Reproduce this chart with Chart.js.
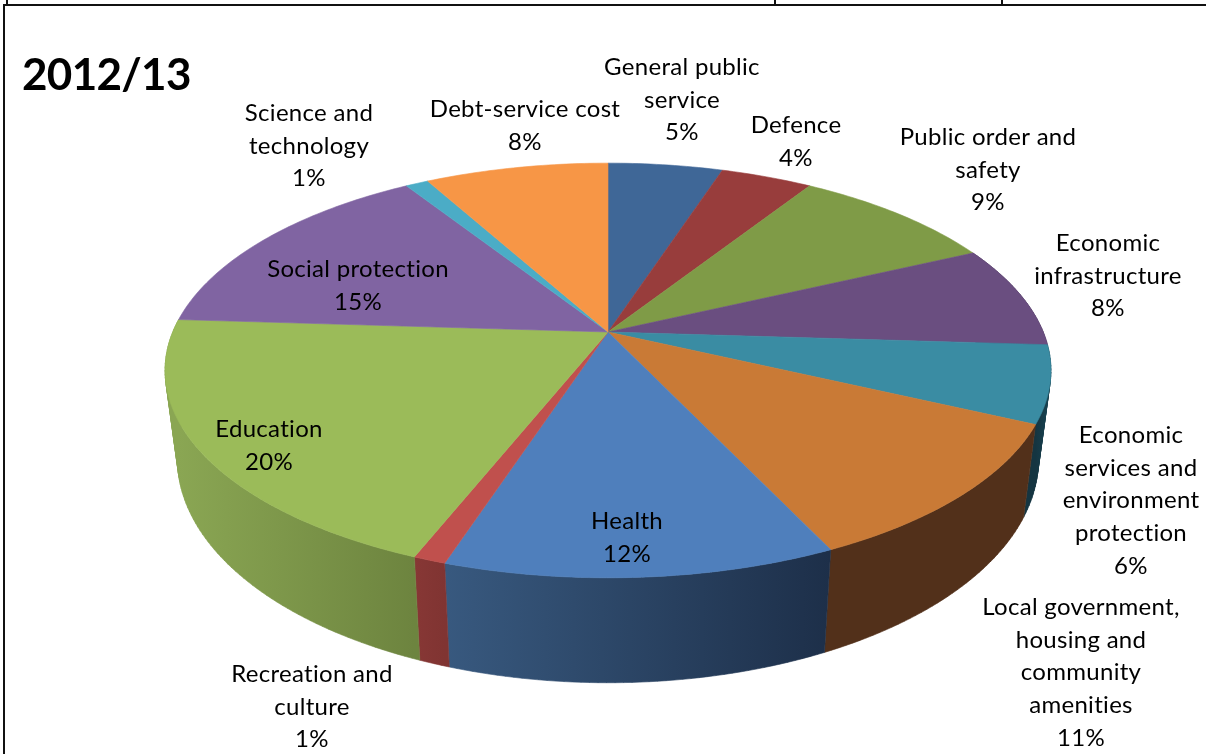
<!DOCTYPE html>
<html>
<head>
<meta charset="utf-8">
<title>2012/13</title>
<script src="https://cdn.jsdelivr.net/npm/chart.js@4/dist/chart.umd.js"></script>
<style>
  html, body { margin: 0; padding: 0; background: #fff; overflow: hidden; }
  #wrap { position: relative; width: 1206px; height: 754px; }
  #wrap div { position: absolute; background: #111; }
  canvas { position: absolute; left: 0; top: 0; }
</style>
</head>
<body>
<div id="wrap">
  <canvas id="budgetPie" width="1206" height="754"></canvas>
  <!-- table rules around the chart -->
  <div style="left:6px;top:0;width:2px;height:5px"></div>
  <div style="left:774px;top:0;width:2px;height:5px"></div>
  <div style="left:1001px;top:0;width:2px;height:5px"></div>
  <div style="left:3px;top:4px;width:1203px;height:2px"></div>
  <div style="left:3px;top:4px;width:2px;height:750px"></div>
</div>
<script>
const title_text = "2012/13";

const categories = [
  ["General public", "service"],
  ["Defence"],
  ["Public order and", "safety"],
  ["Economic", "infrastructure"],
  ["Economic", "services and", "environment", "protection"],
  ["Local government,", "housing and", "community", "amenities"],
  ["Health"],
  ["Recreation and", "culture"],
  ["Education"],
  ["Social protection"],
  ["Science and", "technology"],
  ["Debt-service cost"],
];

const shares = [5, 4, 9, 8, 6, 11, 12, 1, 20, 15, 1, 8];

const top_colors = [
  "#3f6797", "#983d3c", "#7f9b47", "#6a4e80", "#3a8ca3", "#c97a36",
  "#4f7fbc", "#c0504d", "#9bbb59", "#8064a2", "#4bacc6", "#f79646",
];

// side wall shading, left and right end of each slice's horizontal gradient
const wall_left = [
  "#2a4565", "#652928", "#556830", "#463555", "#153541", "#52301a",
  "#38597f", "#873735", "#8aa653", "#564370", "#32748a", "#a86430",
];
const wall_right = [
  "#2a4565", "#652928", "#556830", "#463555", "#17414f", "#52301a",
  "#1d2f49", "#803432", "#6d843f", "#564370", "#32748a", "#a86430",
];

// centre x and first line centre y of each data label block
const label_x = [682, 796, 988, 1108, 1131, 1081, 627, 312, 269, 358, 309, 525];
const label_y = [67.5, 125.5, 137.5, 243.5, 435.5, 607.5, 521.5, 674.5, 429.5, 269.5, 113.5, 109.5];
const line_height = 32.6;

// tilt of the disc, relative to the arc's radius
const spread_x = 1.311;
const spread_y = 0.603;
const perspective = 0.1855;
const wall_depth = 0.2575;
const wall_taper = 0.972;

function rimPoint(arc, angle, lower) {
  const r = arc.outerRadius;
  const w = 1 - perspective * Math.sin(angle);
  const dx = (r * spread_x * Math.cos(angle)) / w;
  const dy = (r * spread_y * Math.sin(angle)) / w;
  if (!lower) return { x: arc.x + dx, y: arc.y + dy };
  return { x: arc.x + dx * wall_taper, y: arc.y + dy + (r * wall_depth) / w };
}

function rimSteps(from, to) {
  return Math.max(4, Math.ceil(Math.abs(to - from) * 60));
}

function signedArea(pts) {
  let sum = 0;
  pts.forEach((p, i) => {
    const q = pts[(i + 1) % pts.length];
    sum += p.x * q.y - q.x * p.y;
  });
  return sum;
}

// one path of small quads, all wound the same way, so the wall also fills out past the disc's side edge
function fillWall(ctx, arc, paint) {
  const steps = rimSteps(arc.startAngle, arc.endAngle);
  const span = arc.endAngle - arc.startAngle;
  ctx.beginPath();
  for (let i = 0; i < steps; i++) {
    const a = arc.startAngle + (span * i) / steps;
    const b = arc.startAngle + (span * (i + 1)) / steps;
    const quad = [rimPoint(arc, a, false), rimPoint(arc, b, false), rimPoint(arc, b, true), rimPoint(arc, a, true)];
    if (signedArea(quad) < 0) quad.reverse();
    quad.forEach((q, k) => (k ? ctx.lineTo(q.x, q.y) : ctx.moveTo(q.x, q.y)));
    ctx.closePath();
  }
  ctx.fillStyle = paint;
  ctx.strokeStyle = paint;
  ctx.lineWidth = 0.6;
  ctx.stroke();
  ctx.fill();
}

// draws the arcs as a tilted disc with a side wall, using the angles Chart.js worked out
const tiltedDisc = {
  id: "tiltedDisc",
  beforeDatasetDraw(chart, args) {
    const ctx = chart.ctx;
    const arcs = args.meta.data;

    arcs.forEach((arc, i) => {
      const a0 = arc.startAngle;
      const a1 = arc.endAngle;
      if (Math.sin(a0) <= 0 && Math.sin(a1) <= 0) return;
      const left = rimPoint(arc, a1, false).x;
      const right = rimPoint(arc, a0, false).x;
      const grad = ctx.createLinearGradient(Math.min(left, right), 0, Math.max(left, right), 0);
      grad.addColorStop(0, wall_left[i]);
      grad.addColorStop(1, wall_right[i]);
      fillWall(ctx, arc, grad);
    });

    arcs.forEach((arc, i) => {
      const steps = rimSteps(arc.startAngle, arc.endAngle);
      ctx.beginPath();
      ctx.moveTo(arc.x, arc.y);
      for (let s = 0; s <= steps; s++) {
        const p = rimPoint(arc, arc.startAngle + ((arc.endAngle - arc.startAngle) * s) / steps, false);
        ctx.lineTo(p.x, p.y);
      }
      ctx.closePath();
      ctx.fillStyle = top_colors[i];
      ctx.strokeStyle = top_colors[i];
      ctx.lineWidth = 0.6;
      ctx.fill();
      ctx.stroke();
    });
    return false;
  },
  afterDraw(chart) {
    const ctx = chart.ctx;
    ctx.save();
    ctx.fillStyle = "#000";
    ctx.textBaseline = "middle";
    ctx.textAlign = "center";
    ctx.font = '24px Lato, "Open Sans", sans-serif';
    ctx.letterSpacing = "0.3px"; // also keeps Lato from joining "ti" into a ligature
    categories.forEach((lines, i) => {
      [...lines, shares[i] + "%"].forEach((line, j) => {
        ctx.fillText(line, label_x[i], label_y[i] + j * line_height);
      });
    });
    ctx.textAlign = "left";
    ctx.font = 'bold 44px Lato, "Open Sans", sans-serif';
    ctx.letterSpacing = "-0.7px";
    ctx.fillText(title_text, 22, 76);
    ctx.restore();
  },
};

new Chart(document.getElementById("budgetPie"), {
  type: "pie",
  data: {
    labels: categories,
    datasets: [{ data: shares, backgroundColor: top_colors, borderWidth: 0 }],
  },
  options: {
    responsive: false,
    animation: false,
    layout: { padding: { left: 10, right: 0, top: 0, bottom: 90 } },
    plugins: { legend: { display: false }, tooltip: { enabled: false } },
  },
  plugins: [tiltedDisc],
});
</script>
</body>
</html>
